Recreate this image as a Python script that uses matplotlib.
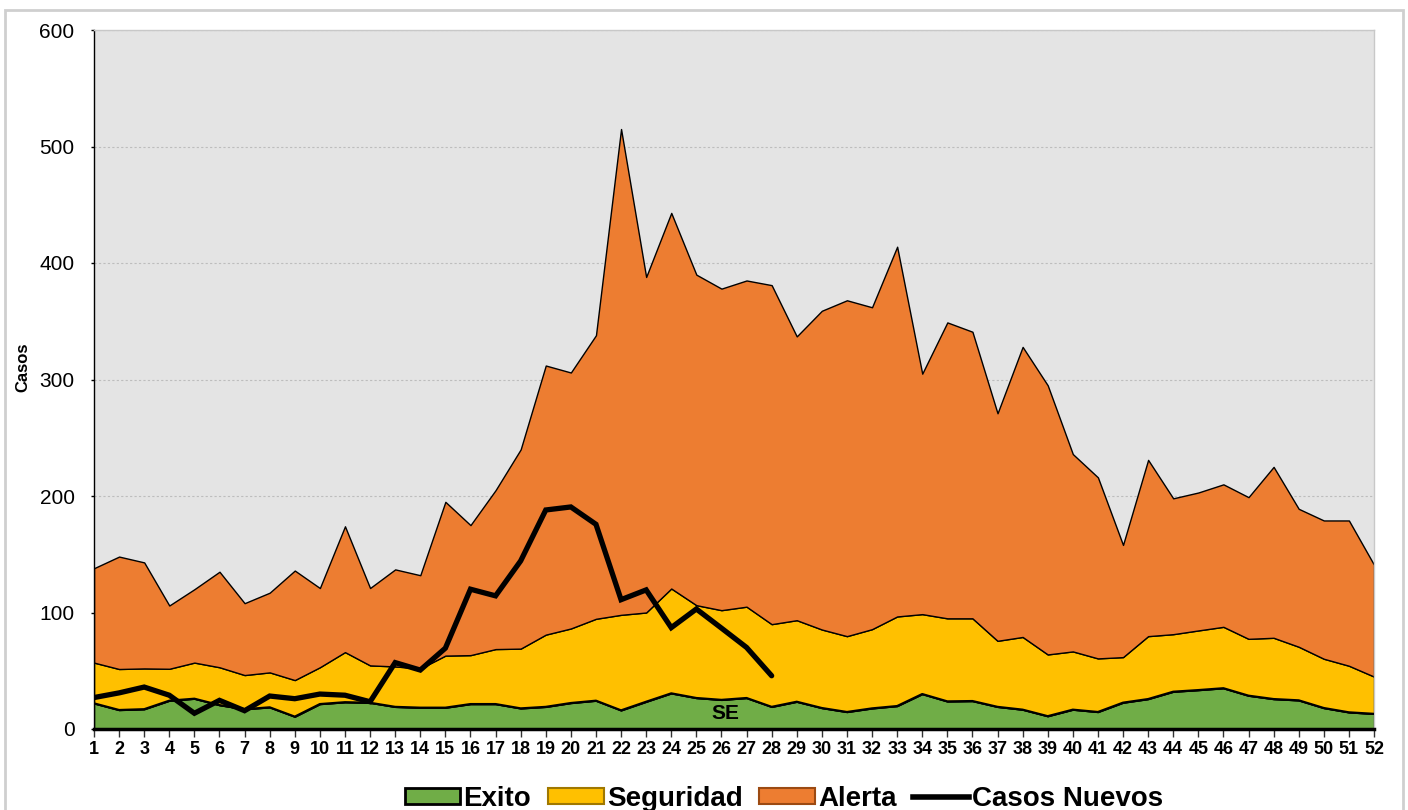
import matplotlib
matplotlib.use("Agg")
import matplotlib.pyplot as plt
from matplotlib.patches import Patch, Rectangle
from matplotlib.lines import Line2D

plt.rcParams['font.family'] = ['Liberation Sans', 'DejaVu Sans']

weeks = list(range(1, 53))

exito = [22, 16.3, 17, 24.3, 26, 20.5, 17, 18.6, 10.6, 21.4, 23, 22.5, 19, 18.3, 18.3, 21.4,
         21.4, 17.7, 19, 22.3, 24.3, 16, 23.4, 30.6, 26.6, 25, 26.6, 19, 23.4, 18, 14.6, 17.7,
         19.7, 30, 23.7, 24, 19, 16.6, 11, 16.6, 14.6, 22.6, 25.7, 32, 33.4, 35, 28.6, 25.7,
         24.6, 18, 14.3, 13]

seguridad = [35, 35.2, 35, 27.4, 31, 32.5, 29.3, 30, 31.4, 31.6, 43, 32.1, 34.7, 33.7, 44.7, 42,
             47.2, 51.3, 62, 64, 70.3, 82, 76.6, 90, 79.7, 77, 78.4, 71, 70, 67.4, 65.1, 68,
             76.9, 68.6, 71.3, 71, 56.7, 62.4, 53, 50, 46, 39.1, 54, 49.4, 51.2, 52.7, 48.8, 52.6,
             46, 42.3, 40, 32]

alerta = [81, 96.5, 91, 54.3, 63, 82, 61.7, 68.4, 94, 68, 108, 66.4, 83.3, 80, 132, 111.6,
          136.4, 171, 231, 219.7, 243.4, 417, 288, 322.4, 283.7, 276, 280, 291, 243.6, 273.6,
          288.3, 276.3, 317.4, 206.4, 254, 246, 195.3, 249, 231, 169.4, 155.4, 96.3, 151.3,
          116.6, 118.4, 122.3, 121.6, 146.7, 118.4, 118.7, 124.7, 96]

casos_weeks = list(range(1, 29))
casos_nuevos = [27, 31, 36, 29, 13.5, 24.6, 15.7, 28.3, 26, 30, 29, 23.4, 57, 50.6, 69.4, 120,
                114.3, 144.3, 188, 190.6, 175.7, 111, 119.4, 87, 103, 86.6, 70, 45.7]

y_ticks = [0, 100, 200, 300, 400, 500, 600]

c_exito = '#70AD47'
c_seg = '#FFC000'
c_alerta = '#ED7D31'

fig = plt.figure(figsize=(14.08, 8.10), dpi=100)
fig.patch.set_facecolor('white')
ax = fig.add_axes([94 / 1408, 1 - 729 / 810, (1374 - 94) / 1408, (729 - 30) / 810])
ax.set_facecolor('#E4E4E4')

ax.stackplot(weeks, exito, seguridad, alerta,
             colors=[c_exito, c_seg, c_alerta],
             edgecolor='black', linewidth=1.0, zorder=2)
ax.plot(weeks, exito, color='black', linewidth=1.6, zorder=3)
ax.plot(casos_weeks, casos_nuevos, color='black', linewidth=3.8, zorder=4,
        solid_capstyle='round', solid_joinstyle='miter')

ax.set_xlim(1, 52)
ax.set_ylim(0, 600)
ax.set_xticks(weeks)
ax.set_xticklabels([str(w) for w in weeks], fontsize=13, fontweight='bold')
ax.set_yticks(y_ticks)
ax.set_yticklabels([str(v) for v in y_ticks], fontsize=15)
ax.tick_params(axis='x', length=6, width=1, pad=3, direction='out', color='#333333')
ax.tick_params(axis='y', length=2, width=1, pad=12, direction='out')

ax.yaxis.grid(True, color='#BDBDBD', linestyle=(0, (2, 2)), linewidth=0.8, zorder=1)
ax.set_axisbelow(True)

ax.spines['left'].set_color('black')
ax.spines['left'].set_linewidth(1.0)
ax.spines['bottom'].set_color('black')
ax.spines['bottom'].set_linewidth(2.5)
ax.spines['bottom'].set_zorder(5)
for s in ['top', 'right']:
    ax.spines[s].set_color('#C8C8C8')
    ax.spines[s].set_linewidth(1.0)

ax.text(0.493, 0.022, 'SE', transform=ax.transAxes, ha='center', va='center',
        fontsize=15, fontweight='bold', zorder=6)

fig.text(23 / 1408, 1 - 367 / 810, 'Casos', rotation=90, ha='center', va='center',
         fontsize=12, fontweight='bold')

# outer chart border
fig.patches.append(Rectangle((5 / 1408, -0.02), 1398 / 1408, 1 - 10 / 810 + 0.02,
                             transform=fig.transFigure, fill=False,
                             edgecolor='#CFCFCF', linewidth=2))

handles = [
    Patch(facecolor=c_exito, edgecolor='black', linewidth=2),
    Patch(facecolor=c_seg, edgecolor='#A07800', linewidth=1.5),
    Patch(facecolor=c_alerta, edgecolor='#9C4A12', linewidth=1.5),
    Line2D([0], [0], color='black', linewidth=4),
]
labels = ['Exito', 'Seguridad', 'Alerta', 'Casos Nuevos']
fig.legend(handles, labels, loc='center', bbox_to_anchor=(784 / 1408, 1 - 799 / 810),
           ncol=4, frameon=False, prop={'size': 20, 'weight': 'bold'},
           handlelength=2.0, handleheight=0.5, handletextpad=0.12,
           columnspacing=0.6, borderpad=0, borderaxespad=0)

fig.savefig('out.png', dpi=100, facecolor='white')
